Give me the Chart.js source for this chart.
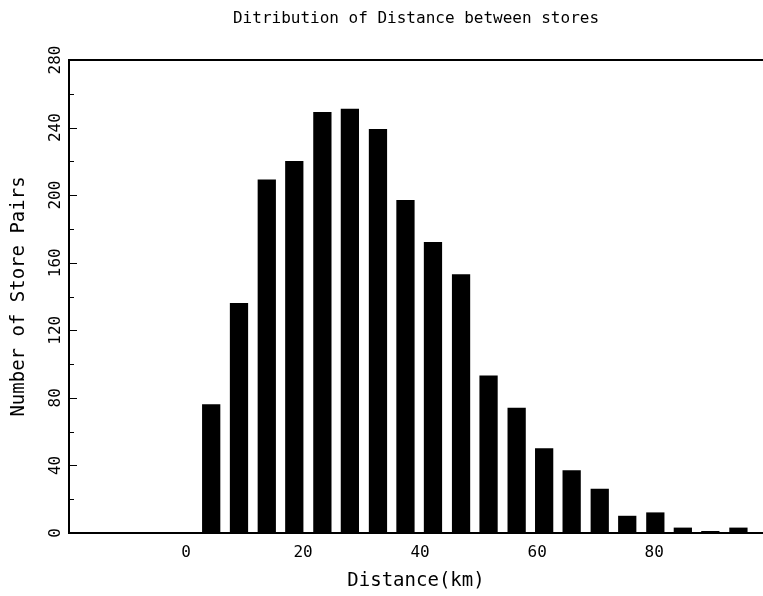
<!DOCTYPE html>
<html>
<head>
<meta charset="utf-8">
<script src="https://cdn.jsdelivr.net/npm/chart.js@4"></script>
<style>
  html, body { margin: 0; padding: 0; background: #fff; }
  canvas { display: block; }
</style>
</head>
<body>
<canvas id="c" width="763" height="596"></canvas>
<script>
// Histogram bin centres (km) and counts
const binCenters = [4.3, 9.05, 13.8, 18.5, 23.3, 28.0, 32.8, 37.5, 42.2, 47.0,
                    51.7, 56.5, 61.2, 65.9, 70.7, 75.4, 80.2, 84.9, 89.6, 94.4];
const counts = [76, 136, 209, 220, 249, 251, 239, 197, 172, 153,
                93, 74, 50, 37, 26, 10, 12, 3, 1, 3];
const xTickValues = [0, 20, 40, 60, 80];
const yTickStep = 20;
const yLabelStep = 40;

const titleText = 'Ditribution of Distance between stores';
const xTitle = 'Distance(km)';
const yTitle = 'Number of Store Pairs';

const FONT = "'DejaVu Sans Mono', monospace";

const innerTicks = {
  id: 'innerTicks',
  afterDraw(chart) {
    const ys = chart.scales.y;
    const ctx = chart.ctx;
    const left = chart.chartArea.left;
    ctx.save();
    ctx.strokeStyle = '#000';
    ctx.lineWidth = 1;
    for (let v = ys.min; v <= ys.max; v += yTickStep) {
      const y = Math.round(ys.getPixelForValue(v)) + 0.5;
      const len = (v % yLabelStep === 0) ? 8 : 5;
      ctx.beginPath();
      ctx.moveTo(left, y);
      ctx.lineTo(left + len, y);
      ctx.stroke();
    }
    ctx.restore();
  }
};

new Chart(document.getElementById('c'), {
  type: 'bar',
  data: {
    datasets: [{
      data: binCenters.map((x, i) => ({ x: x, y: counts[i] })),
      backgroundColor: '#000',
      borderWidth: 0,
      barThickness: 17.6
    }]
  },
  options: {
    responsive: false,
    devicePixelRatio: 1,
    animation: false,
    layout: { padding: 0 },
    plugins: {
      legend: { display: false },
      tooltip: { enabled: false }
    },
    scales: {
      x: {
        type: 'linear',
        position: 'bottom',
        min: -20,
        max: 98.6,
        offset: false,
        afterBuildTicks: (s) => { s.ticks = xTickValues.map(v => ({ value: v })); },
        afterFit: (s) => { s.height = 63; },
        grid: { display: false, drawTicks: false },
        border: { display: true, color: '#000', width: 2 },
        ticks: {
          color: '#000',
          font: { family: FONT, size: 16 },
          padding: 10,
          maxRotation: 0,
          autoSkip: false
        },
        title: {
          display: true,
          text: xTitle,
          color: '#000',
          font: { family: FONT, size: 19, lineHeight: 1.2 },
          padding: { top: 0, bottom: 4 }
        }
      },
      x2: {
        type: 'linear',
        position: 'top',
        min: -20,
        max: 98.6,
        afterFit: (s) => { s.height = 60; },
        grid: { display: false, drawTicks: false },
        border: { display: true, color: '#000', width: 2 },
        ticks: { display: false },
        title: {
          display: true,
          text: titleText,
          color: '#000',
          font: { family: FONT, size: 16, lineHeight: 1.2 },
          padding: { top: 9, bottom: 0 }
        }
      },
      y: {
        type: 'linear',
        position: 'left',
        min: 0,
        max: 280,
        afterFit: (s) => { s.width = 69; },
        grid: { display: false, drawTicks: false },
        border: { display: true, color: '#000', width: 2 },
        ticks: {
          stepSize: yTickStep,
          color: '#000',
          font: { family: FONT, size: 16 },
          padding: -1,
          minRotation: 90,
          maxRotation: 90,
          crossAlign: 'center',
          autoSkip: false,
          callback: (v) => (v % yLabelStep === 0 ? String(v) : '')
        },
        title: {
          display: true,
          text: yTitle,
          color: '#000',
          font: { family: FONT, size: 19, lineHeight: 1.2 },
          padding: { top: 8, bottom: 0 }
        }
      }
    }
  },
  plugins: [innerTicks]
});
</script>
</body>
</html>
